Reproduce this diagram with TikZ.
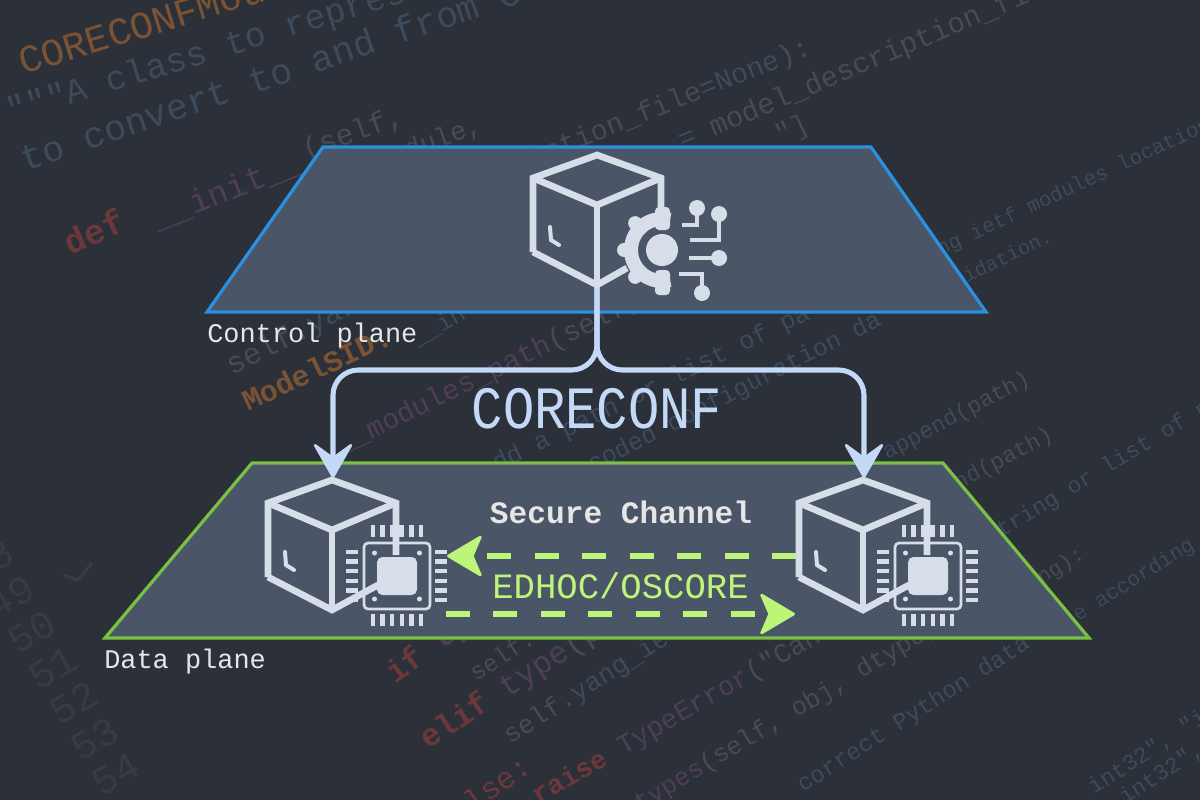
\documentclass[tikz,border=0pt]{standalone}
\usepackage{fontspec}
\setmonofont{Liberation Mono}
\usetikzlibrary{arrows.meta}
\definecolor{bgdark}{HTML}{2C3038}
\definecolor{planefill}{HTML}{4A5568}
\definecolor{ctrlblue}{HTML}{2B90E0}
\definecolor{datagreen}{HTML}{7AC143}
\definecolor{iconwhite}{HTML}{D8DEE9}
\definecolor{flowblue}{HTML}{C4D8F8}
\definecolor{lime}{HTML}{BDF57A}
\definecolor{labelwhite}{HTML}{E6E6E6}
\definecolor{cdorange}{HTML}{7A5335}
\definecolor{cdred}{HTML}{6C383B}
\definecolor{cdpurple}{HTML}{4F3E5A}
\definecolor{cdgrey}{HTML}{484B52}
\definecolor{cdblue}{HTML}{3C4C5D}
\definecolor{cdnum}{HTML}{373B43}
\tikzset{
  plane/.style={fill=planefill,line width=2.4pt,line join=miter},
  icon/.style={draw=iconwhite,line width=5pt},
  trace/.style={draw=iconwhite,line width=3pt},
  pin/.style={draw=iconwhite,line width=3.4pt},
  flowline/.style={draw=flowblue,line width=3.8pt,rounded corners=19pt,
    -{Stealth[length=29pt,width=33pt,inset=12pt,line width=2pt,round]}},
  secureline/.style={draw=lime,line width=4.5pt,dash pattern=on 18pt off 17.6pt,
    -{Stealth[length=28pt,width=33pt,inset=7pt,line width=2pt,round,fill=lime]}},
  label/.style={font=\ttfamily\fontsize{20.2}{20.2}\selectfont,text=labelwhite,inner sep=0,anchor=base west},
  pics/cube/.style 2 args={code={
    \draw[icon] (-64,97) -- (-64,23) -- (0,0) -- (64,23) -- (64,#1);
    \draw[icon] (-64,23) -- (0,50) -- (64,23);
    \draw[icon] (0,50) -- (0,130);
    \draw[icon] (-64,97) -- (0,130) -- #2;
    \draw[trace,line cap=round] (-47,72) -- (-46,85) -- (-38,90);
  }},
  pics/gear/.style={code={
    \draw[draw=iconwhite,line width=10.5pt] (75:31) arc (75:285:31);
    \foreach \a in {135,180,225}
      \draw[draw=iconwhite,line width=10.5pt,line cap=round] (\a:31) -- (\a:38);
    \fill[iconwhite,rounded corners=3pt] (-7,-43) rectangle (8,-20);
    \fill[iconwhite,rounded corners=3pt] (-7,20) rectangle (8,45);
    \fill[iconwhite] (0,0) circle (16);
    \draw[trace] (35,-42) -- (35,-25) -- (20,-25);
    \draw[trace] (57,-36) -- (57,-10) -- (28,-10);
    \draw[trace] (57,8) -- (27,8);
    \draw[trace] (40,43) -- (40,24) -- (17,24);
    \foreach \p in {(35,-42),(57,-36),(57,8),(40,43)}
      \fill[iconwhite] \p circle (8);
  }},
  pics/chip/.style={code={
    \draw[draw=iconwhite,line width=2pt,rounded corners=3pt] (-33,-33) rectangle (33,33);
    \fill[iconwhite,rounded corners=4pt] (-20,-19) rectangle (20,19);
    \fill[iconwhite] (-6,-51) rectangle (6,-39);
    \foreach \i in {-24,-14.4,-4.8,4.8,14.4,24} {
      \draw[pin] (\i,-51) -- (\i,-39);
      \draw[pin] (\i,38) -- (\i,50);
      \draw[pin] (-51,\i) -- (-39,\i);
      \draw[pin] (38,\i) -- (50,\i);
    }
    \foreach \p in {(-22.5,-23),(22.5,-23),(-22.5,23),(22.5,23)}
      \fill[iconwhite] \p circle (2.5);
  }},
}
\begin{document}
\begin{tikzpicture}[x=0.75pt,y=-0.75pt]
\useasboundingbox (0,0) rectangle (1200,800);
\clip (0,0) rectangle (1200,800);
\fill[bgdark] (0,0) rectangle (1200,800);
% code in the background
\foreach \px/\py/\rot/\fs/\col/\txt [count=\i] in {
  -111/116/17/29/cdred/{\bfseries class},
  23/75/17/29/cdorange/{CORECONFModel},
  10/123/17/26/cdblue/{"""A class to represent},
  25/172/18.8/27.4/cdblue/{to convert to and from CORECONF},
  70/256/24/26/cdred/{\bfseries def},
  157/230/21.9/25/cdpurple/{\_\_init\_\_},
  306/160/20/22/cdgrey/{(self,},
  378/170/20/20/cdgrey/{module,},
  454/199/22/21/cdgrey/{description\_file\textcolor{cdblue}{=None}):},
  682/150/23/21.5/cdgrey/{\textcolor{cdblue}{=} model\_description\_file},
  780/145/25/21/cdgrey/{"]},
  940/256/25/15.6/cdblue/{ng ietf modules locations},
  967/283/26/15/cdblue/{idation.},
  232/376/27/22.6/cdgrey/{self.\textcolor{cdblue}{yang\_}},
  248/412/25/22.4/cdorange/{\bfseries ModelSID.},
  417/347/30/18/cdblue/{\_\_in},
  341/454/26/21/cdpurple/{\_\_modules\_path\textcolor{cdgrey}{(self,}},
  497/472/26/19/cdblue/{dd a path or list of pa},
  566/486/27/18.5/cdblue/{encoded configuration da},
  887/460/28/17/cdgrey/{\textcolor{cdblue}{append}(path)},
  910/516/28/17/cdgrey/{\textcolor{cdblue}{append}(path)},
  990/545/31/17/cdblue/{string or list of p},
  1078/622/32/15.7/cdblue/{e according},
  1042/585/32/16/cdgrey/{ng):},
  395/685/36/24/cdred/{\bfseries if \textcolor{cdpurple}{type}},
  476/682/33/18/cdgrey/{self.},
  428/750/33/23.7/cdred/{\bfseries elif \mdseries\textcolor{cdpurple}{type}\textcolor{cdgrey}{(path}},
  510/745/32.5/19.8/cdgrey/{self.\textcolor{cdblue}{yang\_ie}},
  458/824/35/23/cdred/{else:},
  538/805/30/20.5/cdred/{\bfseries raise \mdseries\textcolor{cdpurple}{TypeError}\textcolor{cdgrey}{("Can}},
  640/812/31/19/cdpurple/{types\textcolor{cdgrey}{(self, obj, dtype,}},
  803/793/32.6/17.8/cdblue/{correct Python data},
  1094/795/33/17/cdblue/{int32", "int},
  1125/805/33/17/cdblue/{int32", "int}}
  \node[rotate=\rot,anchor=base west,inner sep=0,text=\col,font=\ttfamily\fontsize{\fs}{\fs}\selectfont] (code\i) at (\px,\py) {\txt};
\foreach \n [count=\k from 0] in {48,...,54}
  \node[rotate=30,anchor=base west,inner sep=0,text=cdnum,font=\ttfamily\fontsize{30}{30}\selectfont] (line\n) at (-25+21*\k,585+35.5*\k) {\n};
\draw[cdnum,line width=2.5pt] (63,575) -- (78,580) -- (92,563);
% planes
\draw[plane,draw=ctrlblue] (323,147) -- (871,147) -- (986,312) -- (207,312) -- cycle;
\draw[plane,draw=datagreen] (252,463) -- (943,463) -- (1089,638) -- (105,638) -- cycle;
\node[label] (ctrllabel) at (207,342) {Control plane};
\node[label] (datalabel) at (104,668) {Data plane};
% positions
\coordinate (ctrl) at (597,155);
\coordinate (hub) at (662,250);
\coordinate (devL) at (332,480);
\coordinate (devR) at (863,480);
\coordinate (chipL) at (397,576);
\coordinate (chipR) at (928,576);
\coordinate (ctrlout) at (597,286);
\coordinate (bendL) at (333,370);
\coordinate (bendR) at (864,370);
\coordinate (inL) at (333,478);
\coordinate (inR) at (864,478);
% coreconf arrows
\draw[flowline] (ctrlout) |- (bendL) -- (inL);
\draw[flowline] (ctrlout) |- (bendR) -- (inR);
\node[inner sep=0,anchor=base,xscale=.87,text=flowblue,font=\ttfamily\fontsize{45}{45}\selectfont] (coreconf) at (597,428) {CORECONF};
% icons
\pic at (ctrl) {cube={55}{(30,113)}};
\pic at (hub) {gear};
\pic at (devL) {cube={75}{(46,105)}};
\pic at (devR) {cube={75}{(46,105)}};
\pic at (chipL) {chip};
\pic at (chipR) {chip};
% secure channel
\coordinate (rightout) at (796,556);
\coordinate (leftin) at (447,556);
\coordinate (leftout) at (446,614);
\coordinate (rightin) at (795,614);
\draw[secureline] (rightout) -- (leftin);
\draw[secureline] (leftout) -- (rightin);
\node[inner sep=0,anchor=base,text=labelwhite,font=\ttfamily\bfseries\fontsize{23.4}{23.4}\selectfont] (secure) at (621,523) {Secure Channel};
\node[inner sep=0,anchor=base,text=lime,font=\ttfamily\fontsize{26.7}{26.7}\selectfont] (edhoc) at (620.5,598) {EDHOC/OSCORE};
\end{tikzpicture}
\end{document}
